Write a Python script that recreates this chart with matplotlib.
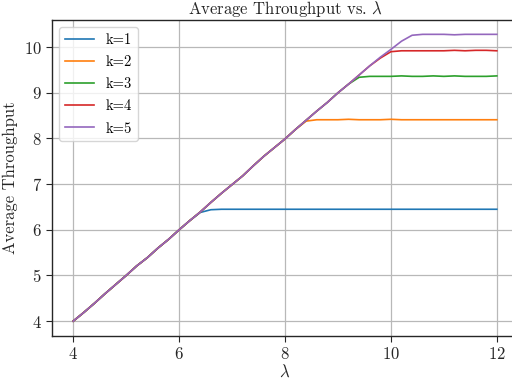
# average throughput vs arrival rate, one line per k

import matplotlib
matplotlib.use('Agg')
import matplotlib.pyplot as plt

lam = [4.0, 4.2, 4.4, 4.6, 4.8, 5.0, 5.2, 5.4, 5.6, 5.8,
       6.0, 6.2, 6.4, 6.6, 6.8, 7.0, 7.2, 7.4, 7.6, 7.8,
       8.0, 8.2, 8.4, 8.6, 8.8, 9.0, 9.2, 9.4, 9.6, 9.8,
       10.0, 10.2, 10.4, 10.6, 10.8, 11.0, 11.2, 11.4, 11.6, 11.8, 12.0]

# shared rising part (all k follow it until they saturate)
rise = [4.0, 4.19, 4.39, 4.6, 4.8, 5.0, 5.21, 5.39, 5.6, 5.79,
        6.0, 6.2, 6.39, 6.6, 6.8, 6.99, 7.18, 7.4, 7.61, 7.8,
        7.99, 8.2, 8.4, 8.6, 8.79, 9.0, 9.19, 9.39, 9.59, 9.78]

k1 = rise[:12] + [6.38, 6.44, 6.45, 6.45, 6.45, 6.45, 6.45, 6.45,
                  6.45, 6.45, 6.45, 6.45, 6.45, 6.45, 6.45, 6.45, 6.45, 6.45,
                  6.45, 6.45, 6.45, 6.45, 6.45, 6.45, 6.45, 6.45, 6.45, 6.45, 6.45]
k2 = rise[:22] + [8.38, 8.41, 8.41, 8.41, 8.42, 8.41, 8.41, 8.41,
                  8.42, 8.41, 8.41, 8.41, 8.41, 8.41, 8.41, 8.41, 8.41, 8.41, 8.41]
k3 = rise[:27] + [9.34, 9.36, 9.36, 9.36, 9.37, 9.36, 9.36, 9.37,
                  9.36, 9.37, 9.36, 9.36, 9.36, 9.37]
k4 = rise[:29] + [9.76, 9.9, 9.92, 9.92, 9.92, 9.92, 9.92, 9.93,
                  9.92, 9.93, 9.93, 9.92]
k5 = rise[:30] + [9.95, 10.13, 10.26, 10.28, 10.28, 10.28, 10.27,
                  10.28, 10.28, 10.28, 10.28]

series = [k1, k2, k3, k4, k5]
labels = ['k=1', 'k=2', 'k=3', 'k=4', 'k=5']

plt.rcParams['font.family'] = 'serif'
plt.rcParams['font.serif'] = ['cmr10']
plt.rcParams['mathtext.fontset'] = 'cm'
plt.rcParams['axes.formatter.use_mathtext'] = True
plt.rcParams['axes.unicode_minus'] = False

fig = plt.figure(figsize=(5.12, 3.79), dpi=100, facecolor='w')
ax = fig.add_axes([52 / 512, 1 - 335.5 / 379, 466 / 512, 315.5 / 379])

for y, lab in zip(series, labels):
    ax.plot(lam, y, lw=1.2, label=lab)

ax.set_title(r'Average Throughput vs. $\lambda$', fontsize=12, color='.15', pad=4)
ax.set_xlabel(r'$\lambda$', fontsize=12, color='.15', labelpad=1)
ax.set_ylabel('Average Throughput', fontsize=12, color='.15', labelpad=4)
ax.set_xticks([4, 6, 8, 10, 12])
ax.set_yticks([4, 5, 6, 7, 8, 9, 10])
ax.tick_params(labelsize=12, colors='.15', length=4, width=0.8)
ax.grid(True, color='#b8b8b8', lw=0.9)
for s in ax.spines.values():
    s.set_color('.15')
    s.set_linewidth(1.0)
ax.spines['right'].set_visible(False)

ax.legend(loc='upper left', fontsize=10.5, framealpha=0.8,
          handlelength=2.0, labelspacing=0.58)

fig.savefig('out.png', dpi=100)
